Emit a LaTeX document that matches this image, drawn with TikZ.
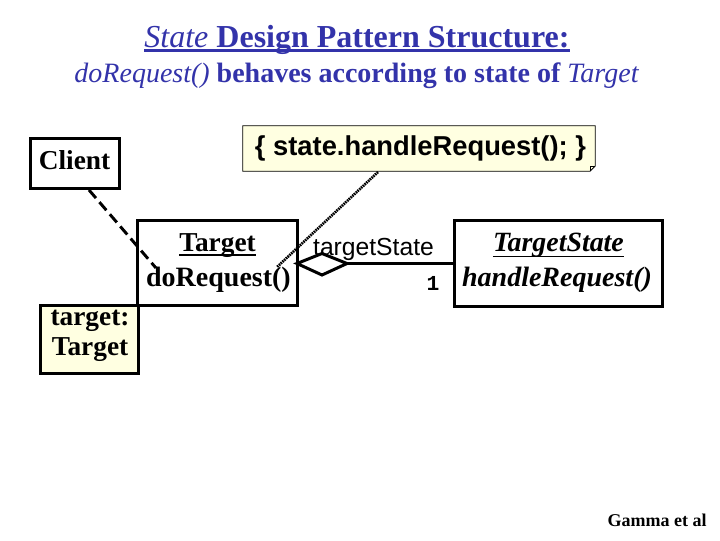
\documentclass[tikz,border=0pt]{standalone}
\usepackage{fontspec}
\setmainfont{Liberation Serif}
\newfontfamily\arialf{Liberation Sans}
\newfontfamily\monof{Liberation Mono}
\definecolor{ttl}{RGB}{51,51,170}
\definecolor{notey}{RGB}{255,255,225}
\tikzset{
  umlbox/.style={draw, line width=2.25pt, rectangle, inner sep=0pt},
  txt/.style={inner sep=0pt, anchor=base},
  uline/.style={line width=1.2pt},
  depline/.style={line width=2.2pt, dash pattern=on 8pt off 4pt},
  notelink/.style={line width=2pt, dash pattern=on 1.2pt off 0.6pt},
  assoc/.style={line width=2.25pt},
}
\begin{document}
\begin{tikzpicture}[x=0.75pt,y=-0.75pt]
\useasboundingbox (0,0) rectangle (720,540);
\fill[white] (0,0) rectangle (720,540);

% title
\node[txt, text=ttl, font=\fontsize{24pt}{28pt}\selectfont\bfseries] (title) at (357,47)
  {{\mdseries\itshape State} Design Pattern Structure:};
\draw[ttl, line width=2pt] ([yshift=-2.5pt]title.base west) -- ([yshift=-2.5pt]title.base east);
\node[txt, text=ttl, font=\fontsize{21pt}{25pt}\selectfont\bfseries] (subtitle) at (356.5,82)
  {{\mdseries\itshape doRequest()} behaves according to state of {\mdseries\itshape Target}};

% note
\node[rectangle, inner sep=0pt, minimum width=264pt, minimum height=33.75pt] (note) at (419,148.5) {};
\draw[fill=notey, line width=0.6pt] (note.north west) -- (note.north east) -- ([yshift=4pt]note.south east)
  -- ([xshift=-4pt]note.south east) -- (note.south west) -- cycle;
\draw[line width=0.6pt] ([yshift=4pt]note.south east) -- ([xshift=-4pt,yshift=4pt]note.south east) -- ([xshift=-4pt]note.south east);
\node[txt, font=\fontsize{20.5pt}{24pt}\selectfont\arialf\bfseries] (notetext) at (420.5,155)
  {\{ state.handleRequest(); \}};

% boxes
\node[umlbox, fill=white, minimum width=66.75pt, minimum height=37.5pt] (client) at (74.5,163) {};
\node[txt, font=\fontsize{20.5pt}{24pt}\selectfont\bfseries] (clienttext) at (74.5,169.3) {Client};

\node[umlbox, fill=white, minimum width=120pt, minimum height=63.75pt] (target) at (217,262.5) {};
\node[txt, font=\fontsize{20.5pt}{25pt}\selectfont\bfseries] (targetname) at (217.5,251.7) {Target};
\draw[uline] ([yshift=-2.6pt]targetname.base west) -- ([yshift=-2.6pt]targetname.base east);
\node[txt, font=\fontsize{21pt}{25pt}\selectfont\bfseries] (targetop) at (218.5,286.7) {doRequest()};

\node[umlbox, fill=white, minimum width=156pt, minimum height=64.5pt] (tstate) at (558,263) {};
\node[txt, font=\fontsize{20.9pt}{25pt}\selectfont\bfseries\itshape] (tstatename) at (558.5,251.7) {TargetState};
\draw[uline] ([yshift=-3.5pt]tstatename.base west) -- ([yshift=-3.5pt]tstatename.base east);
\node[txt, font=\fontsize{21pt}{25pt}\selectfont\bfseries\itshape] (tstateop) at (557,286.7) {handleRequest()};

\node[umlbox, fill=notey, minimum width=73.5pt, minimum height=51pt] (tbox) at (89,339) {};
\node[txt, font=\fontsize{20.5pt}{24pt}\selectfont\bfseries] (tboxa) at (90,325) {target:};
\node[txt, font=\fontsize{20.5pt}{24pt}\selectfont\bfseries] (tboxb) at (90,355) {Target};

% connectors
\coordinate (cstart) at (89,190);
\coordinate (cend) at (156,268);
\draw[depline] (cstart) -- (cend);
\coordinate (nstart) at (378,172);
\coordinate (nend) at (277,267);
\draw[notelink] (nstart) -- (nend);

\coordinate (dl) at (297,263.5);
\coordinate (dt) at (322,253.5);
\coordinate (dr) at (347,263.5);
\coordinate (db) at (322,275);
\draw[assoc, line join=miter, fill=white] (dl) -- (dt) -- (dr) -- (db) -- cycle;
\draw[assoc] (dr) -- (dr -| tstate.west);

\node[txt, font=\fontsize{18.5pt}{22pt}\selectfont\arialf] (role) at (373.5,255) {targetState};
\node[txt, font=\fontsize{16pt}{20pt}\selectfont\monof\bfseries] (mult) at (433,290) {1};

\node[txt, font=\fontsize{13.5pt}{16pt}\selectfont\bfseries] (credit) at (657,526.7) {Gamma et al};
\end{tikzpicture}
\end{document}
